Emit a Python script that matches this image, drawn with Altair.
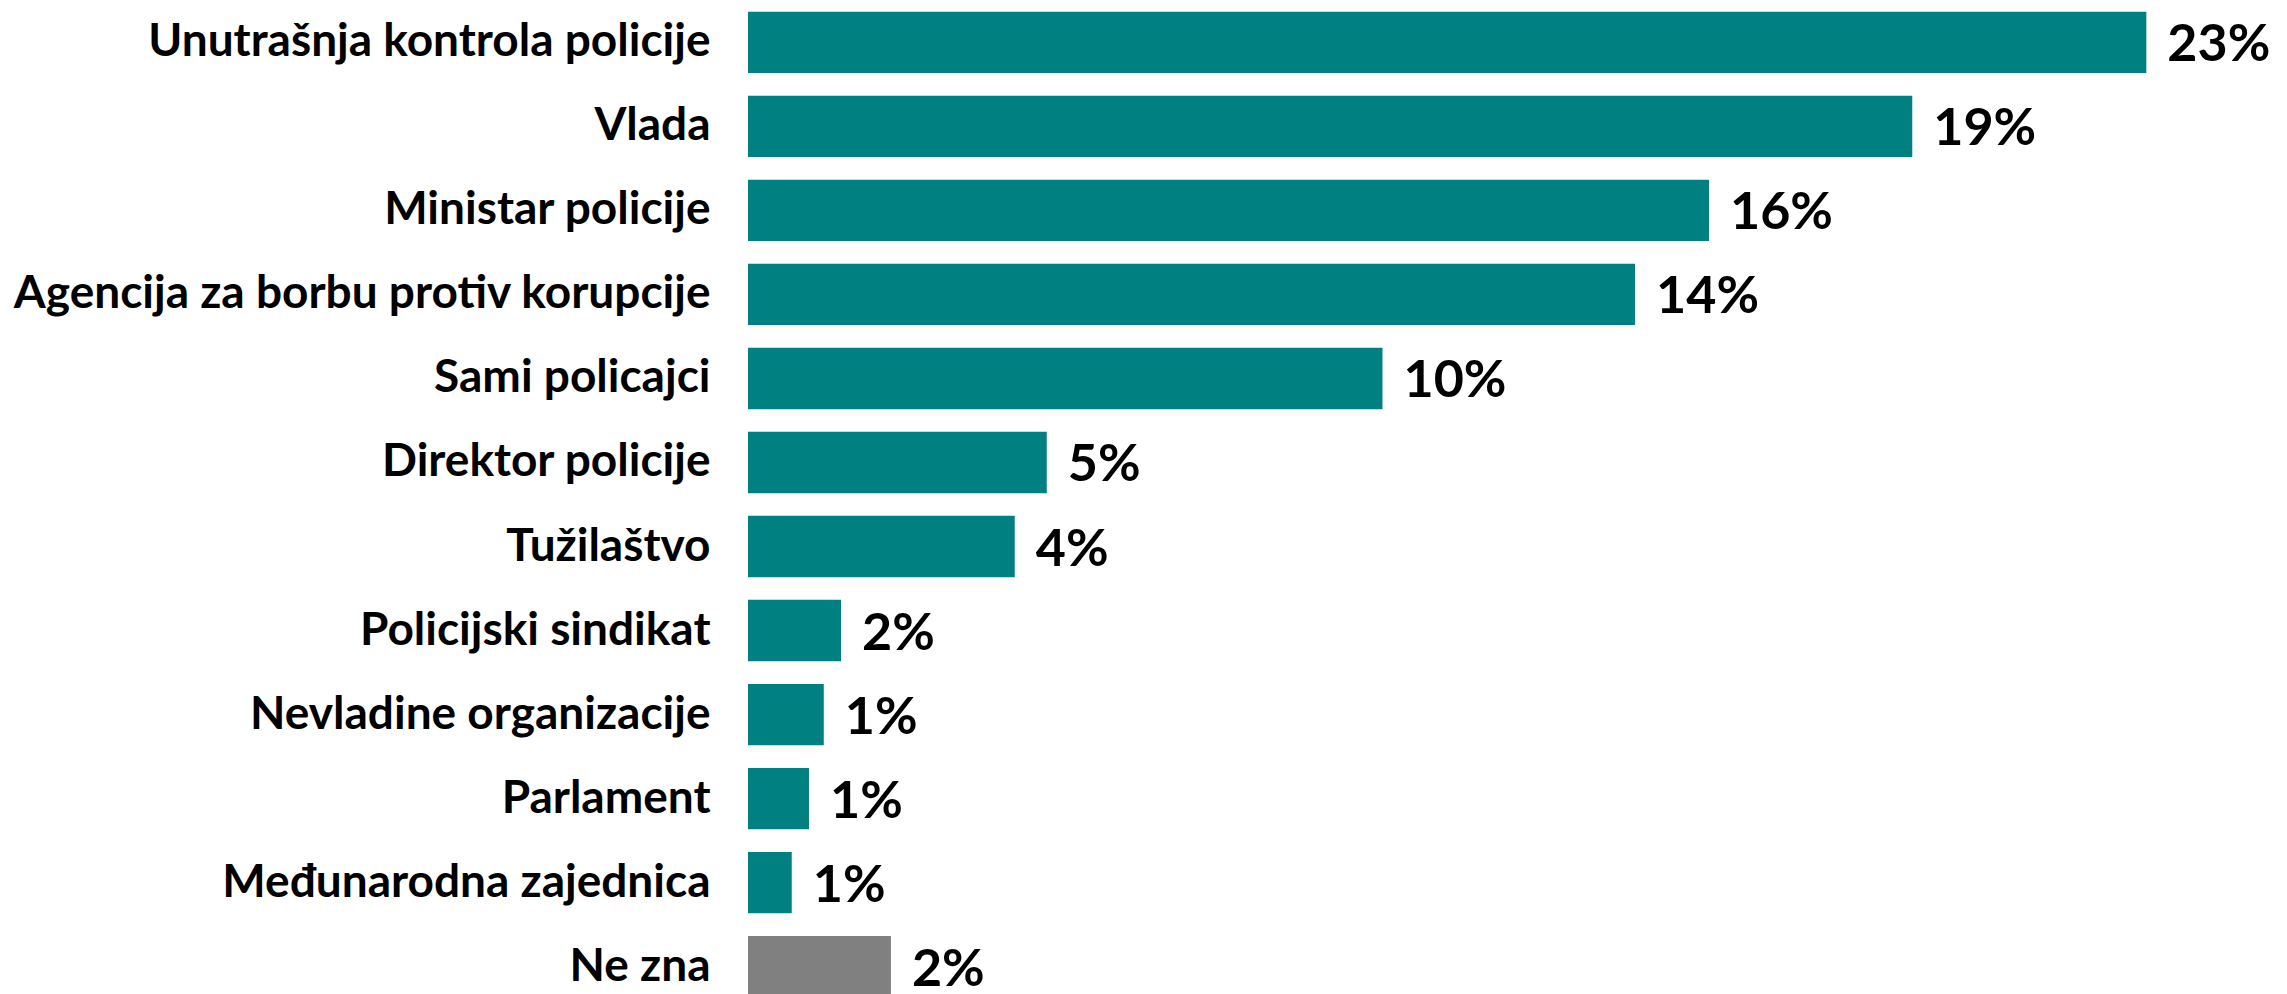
import altair as alt
import pandas as pd

categories = [
    "Unutrašnja kontrola policije",
    "Vlada",
    "Ministar policije",
    "Agencija za borbu protiv korupcije",
    "Sami policajci",
    "Direktor policije",
    "Tužilaštvo",
    "Policijski sindikat",
    "Nevladine organizacije",
    "Parlament",
    "Međunarodna zajednica",
    "Ne zna",
]
values = [22.7, 18.9, 15.6, 14.4, 10.3, 4.85, 4.33, 1.51, 1.23, 0.99, 0.71, 2.32]
rounded = [23, 19, 16, 14, 10, 5, 4, 2, 1, 1, 1, 2]
groups = ["odgovor"] * 11 + ["ne zna"]

df = pd.DataFrame({
    "kategorija": categories,
    "vrijednost": values,
    "oznaka": [f"{r}%" for r in rounded],
    "grupa": groups,
})

y = alt.Y(
    "kategorija:N",
    sort=categories,
    axis=alt.Axis(
        title=None, domain=False, ticks=False, grid=False,
        labelFontSize=46, labelFont="Lato", labelFontWeight="bold",
        labelColor="black", labelPadding=38, labelLimit=900,
    ),
    scale=alt.Scale(paddingInner=0.27, paddingOuter=0.044),
)
x = alt.X("vrijednost:Q", axis=None,
          scale=alt.Scale(domain=[0, 24.35], nice=False, zero=True))

bars = alt.Chart(df).mark_bar().encode(
    x=x, y=y,
    color=alt.Color("grupa:N",
                    scale=alt.Scale(domain=["odgovor", "ne zna"],
                                    range=["#008080", "#808080"]),
                    legend=None),
)
text = alt.Chart(df).mark_text(
    align="left", baseline="middle", dx=21, dy=3,
    font="Lato", fontWeight="bold", fontSize=52, color="black",
).encode(x=x, y=y, text="oznaka:N")

chart = (bars + text).properties(
    width=1500, height=993,
    padding={"left": 740, "top": 0, "right": 30, "bottom": 0},
    autosize=alt.AutoSizeParams(type="none"),
    background="white",
).configure_view(stroke=None)

chart.save("out.html", embed_options={"renderer": "svg", "actions": False})
